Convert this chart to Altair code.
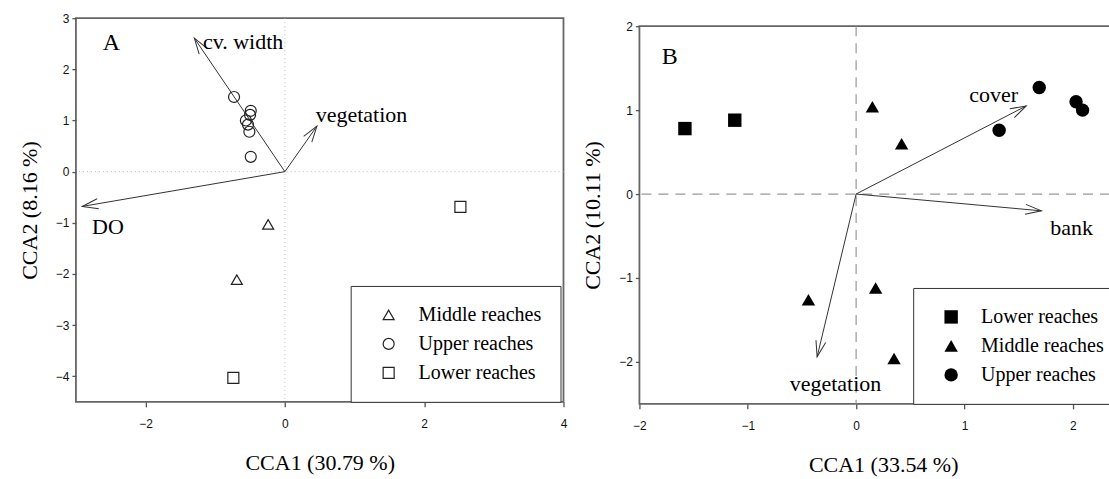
import math
import altair as alt
import pandas as pd

# ---------------- Panel A data ----------------
a_site_x = [-0.73, -0.49, -0.50, -0.56, -0.53, -0.51, -0.49, -0.24, -0.69, 2.52, -0.74]
a_site_y = [1.46, 1.19, 1.11, 1.00, 0.92, 0.78, 0.29, -1.03, -2.11, -0.69, -4.03]
a_site_group = ["Upper reaches"] * 7 + ["Middle reaches"] * 2 + ["Lower reaches"] * 2
a_env_name = ["cv. width", "vegetation", "DO"]
a_env_x = [-1.30, 0.46, -2.91]
a_env_y = [2.61, 0.89, -0.68]
a_env_lab_x = [-0.60, 1.10, -2.54]
a_env_lab_y = [2.54, 1.10, -1.09]
a_legend_order = ["Middle reaches", "Upper reaches", "Lower reaches"]
a_shapes = ["triangle-up", "circle", "square"]
a_xticks = [-2, 0, 2, 4]
a_yticks = [3, 2, 1, 0, -1, -2, -3, -4]
a_xdom = [-3, 4]
a_ydom = [-4.5, 3]

# ---------------- Panel B data ----------------
b_site_x = [-1.58, -1.12, 0.15, 0.42, -0.44, 0.18, 0.35, 1.69, 1.32, 2.03, 2.09]
b_site_y = [0.78, 0.88, 1.04, 0.60, -1.26, -1.12, -1.96, 1.27, 0.76, 1.10, 1.00]
b_site_group = ["Lower reaches"] * 2 + ["Middle reaches"] * 5 + ["Upper reaches"] * 4
b_env_name = ["cover", "bank", "vegetation"]
b_env_x = [1.57, 1.71, -0.36]
b_env_y = [1.05, -0.20, -1.94]
b_env_lab_x = [1.27, 1.99, -0.19]
b_env_lab_y = [1.18, -0.40, -2.26]
b_legend_order = ["Lower reaches", "Middle reaches", "Upper reaches"]
b_shapes = ["square", "triangle-up", "circle"]
b_xticks = [-2, -1, 0, 1, 2]
b_yticks = [2, 1, 0, -1, -2]
b_xdom = [-2, 2.5]
b_ydom = [-2.5, 2]

SERIF = "Liberation Serif"
SANS = "Liberation Sans"
ARROW = "M-0.3125,1 L0,0 L0.3125,1"


def panel(letter, lpos, sx, sy, sg, en, ex, ey, lx, ly, order, shapes, xt, yt, xdom, ydom,
          w, h, xtitle, ytitle, filled, psize, zdash, zcolor, zwidth, legx, legy):
    xs = alt.Scale(domain=xdom, nice=False, zero=False)
    ys = alt.Scale(domain=ydom, nice=False, zero=False)
    xax = alt.Axis(values=xt, format="d", title=xtitle, grid=False, domain=False,
                   labelFlush=False, labelOverlap=False, labelFont=SANS, labelFontSize=12,
                   labelColor="#111", tickSize=5, tickColor="#555", tickWidth=1.3,
                   labelPadding=12, titleFont=SERIF, titleFontSize=22,
                   titleFontWeight="normal", titleColor="black", titlePadding=23)
    yax = alt.Axis(values=yt, format="d", title=ytitle, grid=False, domain=False,
                   labelFont=SANS, labelFontSize=12, labelColor="#111", tickSize=4,
                   tickColor="#555", tickWidth=1.3, labelPadding=3, titleFont=SERIF,
                   titleFontSize=22, titleFontWeight="normal", titleColor="black",
                   titlePadding=14)
    X = lambda f: alt.X(f, type="quantitative", scale=xs, axis=xax)
    Y = lambda f: alt.Y(f, type="quantitative", scale=ys, axis=yax)

    sites = pd.DataFrame({"x": sx, "y": sy, "group": sg})
    px_x = w / (xdom[1] - xdom[0])
    px_y = h / (ydom[1] - ydom[0])
    env = pd.DataFrame({
        "x": [0.0] * len(en), "y": [0.0] * len(en), "x2": ex, "y2": ey,
        "name": en, "lx": lx, "ly": ly,
        "ang": [(math.degrees(math.atan2(a * px_x, b * px_y)) + 360) % 360 for a, b in zip(ex, ey)],
    })
    zero = pd.DataFrame({"x": [0.0], "y": [0.0]})
    letter_df = pd.DataFrame({"lx": [lpos[0]], "ly": [lpos[1]], "name": [letter]})

    vline = alt.Chart(zero).mark_rule(color=zcolor, strokeDash=zdash, strokeWidth=zwidth).encode(x=X("x"))
    hline = alt.Chart(zero).mark_rule(color=zcolor, strokeDash=zdash, strokeWidth=zwidth).encode(y=Y("y"))
    shafts = alt.Chart(env).mark_rule(color="#333", strokeWidth=1).encode(
        x=X("x"), y=Y("y"), x2="x2", y2="y2")
    heads = alt.Chart(env).mark_point(shape=ARROW, filled=False, size=1024, color="#333",
                                      strokeWidth=1, opacity=1).encode(
        x=X("x2"), y=Y("y2"), angle=alt.Angle("ang:Q", scale=None))
    labels = alt.Chart(env).mark_text(font=SERIF, fontSize=22, color="black",
                                      align="center", baseline="middle").encode(
        x=X("lx"), y=Y("ly"), text="name:N")
    letter_mark = alt.Chart(letter_df).mark_text(font=SERIF, fontSize=24, color="black",
                                                 align="center", baseline="middle").encode(
        x=X("lx"), y=Y("ly"), text="name:N")
    legend = alt.Legend(title=None, orient="none", legendX=legx, legendY=legy,
                        fillColor="white", strokeColor="#333", padding=19, rowPadding=9,
                        symbolOffset=9, labelOffset=20, labelFont=SERIF, labelFontSize=20,
                        labelColor="black", symbolSize=psize, symbolStrokeWidth=1.2,
                        symbolStrokeColor="#222" if not filled else "black",
                        symbolFillColor="black" if filled else "transparent",
                        labelLimit=300)
    pts = alt.Chart(sites).mark_point(filled=filled, size=psize,
                                      color="#222" if not filled else "black",
                                      strokeWidth=1.2, opacity=1).encode(
        x=X("x"), y=Y("y"),
        shape=alt.Shape("group:N", scale=alt.Scale(domain=order, range=shapes), legend=legend))
    return alt.layer(vline, hline, shafts, heads, labels, letter_mark, pts).properties(
        width=w, height=h)


A = panel("A", (-2.49, 2.51), a_site_x, a_site_y, a_site_group, a_env_name, a_env_x, a_env_y,
          a_env_lab_x, a_env_lab_y, a_legend_order, a_shapes, a_xticks, a_yticks,
          a_xdom, a_ydom, 488, 384, "CCA1 (30.79 %)", "CCA2 (8.16 %)", False, 121,
          [1, 3], "#bbb", 1, 275, 268)

B = panel("B", (-1.72, 1.63), b_site_x, b_site_y, b_site_group, b_env_name, b_env_x, b_env_y,
          b_env_lab_x, b_env_lab_y, b_legend_order, b_shapes, b_xticks, b_yticks,
          b_xdom, b_ydom, 488, 378, "CCA1 (33.54 %)", "CCA2 (10.11 %)", True, 180,
          [10, 7], "#999", 1.2, 274, 270)

# invisible spacer that pushes panel B slightly lower than panel A
spacer = alt.Chart(pd.DataFrame({"x": [0]})).mark_point(opacity=0).encode(
    x=alt.value(0), y=alt.value(0)).properties(
    width=488, height=1, view=alt.ViewBackground(stroke="transparent"))

B_col = alt.vconcat(spacer, B, spacing=-3)

chart = alt.hconcat(A, B_col, spacing=12).resolve_scale(shape="independent").configure_view(
    stroke="#666", strokeWidth=1.8).properties(
    padding={"left": 17, "top": 11, "right": -20, "bottom": 0}, background="white")

chart.save("out.html", embed_options={"renderer": "svg", "actions": False})
